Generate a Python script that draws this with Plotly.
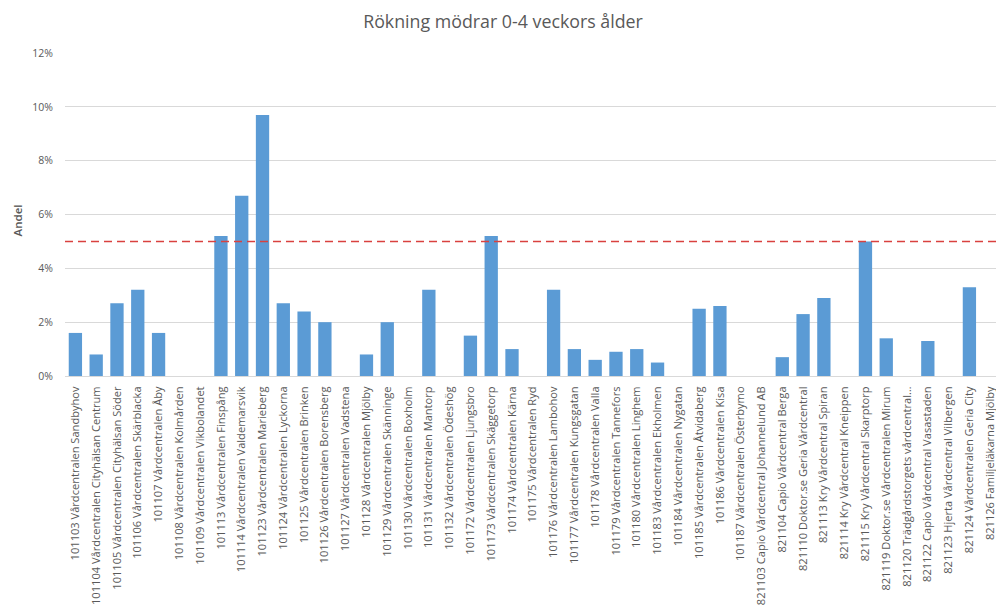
import plotly.graph_objects as go

# Vårdcentraler (kategorier på x-axeln)
units = [
    "101103 Vårdcentralen Sandbyhov",
    "101104 Vårdcentralen Cityhälsan Centrum",
    "101105 Vårdcentralen Cityhälsan Söder",
    "101106 Vårdcentralen Skärblacka",
    "101107 Vårdcentralen Åby",
    "101108 Vårdcentralen Kolmården",
    "101109 Vårdcentralen Vikbolandet",
    "101113 Vårdcentralen Finspång",
    "101114 Vårdcentralen Valdemarsvik",
    "101123 Vårdcentralen Marieberg",
    "101124 Vårdcentralen Lyckorna",
    "101125 Vårdcentralen Brinken",
    "101126 Vårdcentralen Borensberg",
    "101127 Vårdcentralen Vadstena",
    "101128 Vårdcentralen Mjölby",
    "101129 Vårdcentralen Skänninge",
    "101130 Vårdcentralen Boxholm",
    "101131 Vårdcentralen Mantorp",
    "101132 Vårdcentralen Ödeshög",
    "101172 Vårdcentralen Ljungsbro",
    "101173 Vårdcentralen Skäggetorp",
    "101174 Vårdcentralen Kärna",
    "101175 Vårdcentralen Ryd",
    "101176 Vårdcentralen Lambohov",
    "101177 Vårdcentralen Kungsgatan",
    "101178 Vårdcentralen Valla",
    "101179 Vårdcentralen Tannefors",
    "101180 Vårdcentralen Linghem",
    "101183 Vårdcentralen Ekholmen",
    "101184 Vårdcentralen Nygatan",
    "101185 Vårdcentralen Åtvidaberg",
    "101186 Vårdcentralen Kisa",
    "101187 Vårdcentralen Österbymo",
    "821103 Capio Vårdcentral Johannelund AB",
    "821104 Capio Vårdcentral Berga",
    "821110 Doktor.se Geria Vårdcentral",
    "821113 Kry Vårdcentral Spiran",
    "821114 Kry Vårdcentral Kneippen",
    "821115 Kry Vårdcentral Skarptorp",
    "821119 Doktor.se Vårdcentralen Mirum",
    "821120 Trädgårdstorgets vårdcentral…",
    "821122 Capio Vårdcentral Vasastaden",
    "821123 Hjerta Vårdcentral Vilbergen",
    "821124 Vårdcentralen Geria City",
    "821126 Familjeläkarna Mjölby",
]

# Andel rökande mödrar (procent)
andel = [
    1.6, 0.8, 2.7, 3.2, 1.6, 0.0, 0.0, 5.2, 6.7, 9.7,
    2.7, 2.4, 2.0, 0.0, 0.8, 2.0, 0.0, 3.2, 0.0, 1.5,
    5.2, 1.0, 0.0, 3.2, 1.0, 0.6, 0.9, 1.0, 0.5, 0.0,
    2.5, 2.6, 0.0, 0.0, 0.7, 2.3, 2.9, 0.0, 5.0, 1.4,
    0.0, 1.3, 0.0, 3.3, 0.0,
]

# Referensnivå (procent)
target = 5.0

y_ticks = [0, 2, 4, 6, 8, 10, 12]

W, H = 996, 614
left, top, bottom = 64.6, 53, 238
step = 20.8  # px per category
x_hi = -0.5 + (W - left) / step

grey = "#595959"
font = "Open Sans, Liberation Sans, Arial, sans-serif"

fig = go.Figure()
fig.add_trace(go.Bar(
    x=list(range(len(units))),
    y=andel,
    marker=dict(color="#5b9bd5", line=dict(width=0)),
    hoverinfo="y",
))

fig.add_shape(
    type="line", xref="paper", yref="y",
    x0=0, x1=1, y0=target, y1=target,
    line=dict(color="#d9413f", width=1.5, dash="8px,5px"),
    layer="above",
)

fig.add_annotation(
    text="Andel", xref="paper", yref="paper",
    x=(17 - left) / (W - left), y=(H - bottom - 220) / (H - bottom - top),
    xanchor="center", yanchor="middle",
    showarrow=False, textangle=-90,
    font=dict(family=font, size=11.5, color=grey, weight=600),
)

fig.update_layout(
    width=W, height=H,
    margin=dict(l=left, r=0, t=top, b=bottom, pad=0, autoexpand=False),
    paper_bgcolor="white", plot_bgcolor="white",
    bargap=0.36,
    showlegend=False,
    title=dict(
        text="Rökning mödrar 0-4 veckors ålder",
        xref="container", yref="container",
        x=503 / W, y=1 - 22 / H, xanchor="center", yanchor="middle",
        font=dict(family=font, size=17.8, color=grey),
    ),
    font=dict(family=font, color=grey),
    xaxis=dict(
        range=[-0.5, x_hi],
        tickmode="array",
        tickvals=list(range(len(units))),
        ticktext=units,
        tickangle=-90,
        tickfont=dict(size=11.1, color=grey),
        ticklabelstandoff=5,
        ticklabeloverflow="allow",
        automargin=False,
        showgrid=False,
        showline=True, linecolor="#d9d9d9", linewidth=1,
        ticks="", ticklen=0,
        fixedrange=True,
    ),
    yaxis=dict(
        range=[0, 12],
        tickmode="array",
        tickvals=y_ticks,
        ticktext=[f"{v}%" for v in y_ticks],
        tickfont=dict(size=10.5, color=grey),
        ticklabelstandoff=11,
        automargin=False,
        showgrid=True, gridcolor="#d9d9d9", gridwidth=1,
        zeroline=False,
        ticks="", ticklen=0,
        fixedrange=True,
    ),
)

fig.write_html("out.html")
